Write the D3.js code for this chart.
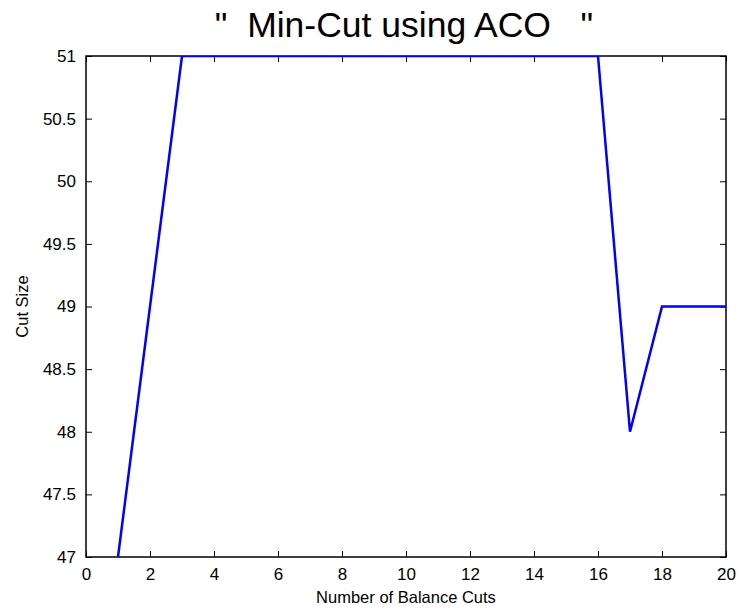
<!DOCTYPE html>
<html>
<head>
<meta charset="utf-8">
<script src="https://cdn.jsdelivr.net/npm/d3@7"></script>
<style>
  body { margin: 0; background: #fff; }
  svg { display: block; font-family: "Liberation Sans", Arial, sans-serif; }
</style>
</head>
<body>
<svg id="chart" width="739" height="609"></svg>
<script>
// balance cut index vs cut size
const cuts = [1, 2, 3, 4, 5, 6, 7, 8, 9, 10, 11, 12, 13, 14, 15, 16, 17, 18, 19, 20];
const cutSize = [47, 49, 51, 51, 51, 51, 51, 51, 51, 51, 51, 51, 51, 51, 51, 51, 48, 49, 49, 49];
const xTicks = [0, 2, 4, 6, 8, 10, 12, 14, 16, 18, 20];
const yTicks = [47, 47.5, 48, 48.5, 49, 49.5, 50, 50.5, 51];

const margin = {top: 56, right: 13, bottom: 52, left: 86};
const W = 739, H = 609;
const width = W - margin.left - margin.right;
const height = H - margin.top - margin.bottom;

const svg = d3.select("#chart");
const g = svg.append("g").attr("transform", `translate(${margin.left},${margin.top})`);

const x = d3.scaleLinear().domain([0, 20]).range([0, width]);
const y = d3.scaleLinear().domain([47, 51]).range([height, 0]);

const fmt = d3.format("");

// MATLAB style: ticks pointing inward on all four sides
const tk = 6;
const axisStyle = sel => {
  sel.select(".domain").remove();
  sel.selectAll(".tick line").attr("stroke", "#000");
  sel.selectAll(".tick text").attr("fill", "#000").style("font-size", "17px");
};

g.append("g")
  .attr("transform", `translate(0,${height})`)
  .call(d3.axisBottom(x).tickValues(xTicks).tickSize(-tk).tickPadding(11).tickFormat(fmt))
  .call(axisStyle)
  .selectAll(".tick text").attr("dy", "0.71em");

g.append("g")
  .call(d3.axisTop(x).tickValues(xTicks).tickSize(-tk).tickFormat(""))
  .call(axisStyle);

g.append("g")
  .call(d3.axisLeft(y).tickValues(yTicks).tickSize(-tk).tickPadding(10).tickFormat(fmt))
  .call(axisStyle);

g.append("g")
  .attr("transform", `translate(${width},0)`)
  .call(d3.axisRight(y).tickValues(yTicks).tickSize(-tk).tickFormat(""))
  .call(axisStyle);

g.append("rect")
  .attr("width", width).attr("height", height)
  .attr("fill", "none").attr("stroke", "#000").attr("stroke-width", 1.5);

g.append("defs").append("clipPath").attr("id", "clip")
  .append("rect").attr("width", width).attr("height", height);

const line = d3.line().x((d, i) => x(cuts[i])).y(d => y(d));

g.append("path")
  .datum(cutSize)
  .attr("clip-path", "url(#clip)")
  .attr("fill", "none")
  .attr("stroke", "#0000ff")
  .attr("stroke-width", 2.5)
  .attr("d", line);

svg.append("text")
  .attr("x", 404)
  .attr("y", 37)
  .attr("text-anchor", "middle")
  .style("font-size", "35.5px")
  .style("white-space", "pre")
  .text('"  Min-Cut using ACO   "');

svg.append("text")
  .attr("x", margin.left + width / 2)
  .attr("y", 603)
  .attr("text-anchor", "middle")
  .style("font-size", "16.5px")
  .text("Number of Balance Cuts");

svg.append("text")
  .attr("transform", `translate(28,${margin.top + height / 2}) rotate(-90)`)
  .attr("text-anchor", "middle")
  .style("font-size", "16.5px")
  .text("Cut Size");
</script>
</body>
</html>
